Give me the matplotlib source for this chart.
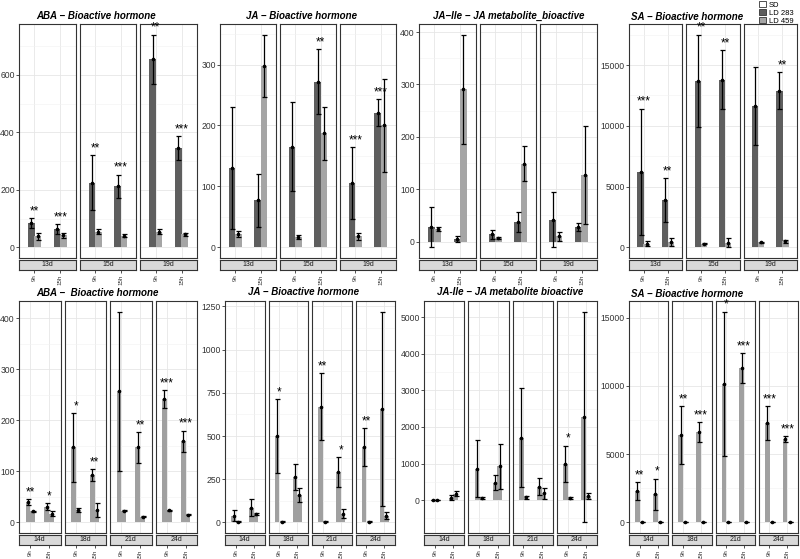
import matplotlib
matplotlib.use('Agg')
import matplotlib.pyplot as plt
from matplotlib.patches import Patch
from matplotlib.ticker import MultipleLocator

plt.rcParams['font.family'] = ['Liberation Sans', 'DejaVu Sans']

W, H = 800, 559

top_days = ['13d', '15d', '19d']
bottom_days = ['14d', '18d', '21d', '24d']
times = ['9h', '15h']
legend_labels = ['SD', 'LD 283', 'LD 459']

# top row, values per day, per time (9h, 15h): LD 283 (dark) and LD 459 (light)
aba_top_ld283 = [[85, 65], [225, 212], [655, 345]]
aba_top_ld283_sd = [[17, 17], [95, 41], [85, 42]]
aba_top_ld459 = [[38, 42], [55, 40], [55, 45]]
aba_top_ld459_sd = [[11, 8], [10, 5], [10, 4]]
aba_top_stars = [['**', '***'], ['**', '***'], ['**', '***']]

ja_top_ld283 = [[130, 77], [165, 272], [106, 221]]
ja_top_ld283_sd = [[100, 43], [73, 53], [59, 22]]
ja_top_ld459 = [[22, 298], [17, 187], [18, 200]]
ja_top_ld459_sd = [[5, 51], [4, 43], [6, 77]]
ja_top_stars = [['', ''], ['', '**'], ['***', '***']]

jaile_top_ld283 = [[28, 5], [14, 38], [42, 28]]
jaile_top_ld283_sd = [[38, 5], [9, 19], [53, 7]]
jaile_top_ld459 = [[24, 291], [7, 149], [10, 127]]
jaile_top_ld459_sd = [[4, 104], [2, 34], [9, 94]]
jaile_top_stars = [['', ''], ['', ''], ['', '']]

sa_top_ld283 = [[6200, 3900], [13700, 13800], [11600, 12900]]
sa_top_ld283_sd = [[5200, 1800], [3800, 2400], [3200, 1500]]
sa_top_ld459 = [[300, 420], [300, 400], [420, 500]]
sa_top_ld459_sd = [[200, 330], [60, 380], [60, 100]]
sa_top_stars = [['***', '**'], ['**', '**'], ['', '**']]

# bottom row, two series per time
aba_bot_a = [[40, 31], [147, 93], [257, 147], [242, 159]]
aba_bot_a_sd = [[5, 7], [67, 11], [156, 30], [17, 21]]
aba_bot_b = [[22, 17], [24, 24], [23, 11], [24, 15]]
aba_bot_b_sd = [[1, 5], [4, 14], [1, 1], [1, 1]]
aba_bot_stars = [['**', '*'], ['*', '**'], ['', '**'], ['***', '***']]

ja_bot_a = [[40, 85], [500, 263], [670, 290], [437, 657]]
ja_bot_a_sd = [[30, 50], [213, 74], [193, 87], [108, 563]]
ja_bot_b = [[5, 48], [5, 160], [5, 50], [5, 40]]
ja_bot_b_sd = [[2, 5], [2, 40], [2, 25], [2, 20]]
ja_bot_stars = [['', ''], ['*', ''], ['**', '*'], ['**', '']]

jaile_bot_a = [[10, 60], [860, 480], [1700, 370], [990, 2270]]
jaile_bot_a_sd = [[5, 70], [770, 200], [1350, 230], [500, 2880]]
jaile_bot_b = [[10, 175], [60, 920], [80, 190], [60, 110]]
jaile_bot_b_sd = [[5, 65], [20, 620], [40, 150], [30, 85]]
jaile_bot_stars = [['', ''], ['', ''], ['', ''], ['*', '']]

sa_bot_a = [[2300, 2050], [6400, 6600], [10150, 11300], [7250, 6100]]
sa_bot_a_sd = [[650, 1150], [2100, 730], [5300, 1080], [1250, 200]]
sa_bot_b = [[20, 20], [20, 20], [20, 20], [20, 20]]
sa_bot_b_sd = [[30, 30], [30, 30], [30, 30], [30, 30]]
sa_bot_stars = [['**', '*'], ['**', '***'], ['*', '***'], ['***', '***']]

dark = '#5e5e5e'
light = '#a5a5a5'
bot_col = '#a0a0a0'
edge = '#333333'

fig = plt.figure(figsize=(W / 100, H / 100), dpi=100)


def draw_group(title, tpos, days, x0, x1, ytop, ybot, series, stars, yticks):
    n = len(days)
    gap = 4
    w = (x1 - x0 - gap * (n - 1)) / n
    lows, highs = [0], [0]
    for m, s, c in series:
        for i in range(n):
            for j in range(2):
                lows.append(m[i][j] - s[i][j])
                highs.append(m[i][j] + s[i][j])
    lo, hi = min(lows), max(highs)
    pad = 0.05 * (hi - lo)
    step = yticks[1] - yticks[0]
    offs = [-0.125, 0.125]
    for i, day in enumerate(days):
        left = x0 + i * (w + gap)
        ax = fig.add_axes([left / W, 1 - ybot / H, w / W, (ybot - ytop) / H])
        ax.set_xlim(0.4, 2.6)
        ax.set_ylim(lo - pad, hi + pad)
        for k, (m, s, c) in enumerate(series):
            xs = [1 + offs[k], 2 + offs[k]]
            ax.bar(xs, m[i], width=0.26, color=c, zorder=2)
            ax.errorbar(xs, m[i], yerr=s[i], fmt='o', ms=1.6, color='black',
                        ecolor='black', elinewidth=0.9, capsize=1.8, capthick=0.9, zorder=3)
        for j in range(2):
            st = stars[i][j]
            if st:
                top = series[0][0][i][j] + series[0][1][i][j]
                ax.text(1 + j, top + 0.004 * (hi - lo), st, ha='center', va='bottom',
                        fontsize=8.5, color='black', zorder=4)
        ax.set_xticks([1, 2])
        ax.set_yticks(yticks)
        ax.yaxis.set_minor_locator(MultipleLocator(step / 2))
        ax.grid(which='major', color='#e6e6e6', lw=0.6, zorder=0)
        ax.grid(which='minor', axis='y', color='#f2f2f2', lw=0.4, zorder=0)
        ax.set_axisbelow(True)
        ax.tick_params(axis='x', length=0, labelbottom=False)
        ax.tick_params(axis='y', which='minor', length=0)
        if i == 0:
            ax.tick_params(axis='y', length=2, width=0.6, color=edge, labelsize=6.2,
                           labelcolor='#333333', pad=1)
        else:
            ax.tick_params(axis='y', length=0, labelleft=False)
        for sp in ax.spines.values():
            sp.set_color(edge)
            sp.set_linewidth(0.8)
        strip = fig.add_axes([left / W, 1 - (ybot + 11.5) / H, w / W, 10 / H])
        strip.set_facecolor('#d9d9d9')
        strip.set_xlim(0.4, 2.6)
        strip.set_ylim(0, 1)
        strip.text(1.5, 0.5, day, ha='center', va='center', fontsize=5, color='#1a1a1a')
        strip.set_yticks([])
        strip.set_xticks([1, 2])
        strip.set_xticklabels(times, rotation=90, fontsize=4.5, color='#333333')
        strip.tick_params(axis='x', length=2, width=0.6, color=edge, pad=1.5)
        for sp in strip.spines.values():
            sp.set_color(edge)
            sp.set_linewidth(0.8)
    fig.text(tpos[0] / W, 1 - tpos[1] / H, title, ha='center', va='center',
             fontsize=7, fontweight='bold', fontstyle='italic')


# top row
draw_group('ABA \u2212 Bioactive hormone', (96.5, 16), top_days, 19, 197, 24, 258,
           [(aba_top_ld283, aba_top_ld283_sd, dark), (aba_top_ld459, aba_top_ld459_sd, light)],
           aba_top_stars, [0, 200, 400, 600])
draw_group('JA \u2212 Bioactive hormone', (301, 16), top_days, 220, 396, 24, 258,
           [(ja_top_ld283, ja_top_ld283_sd, dark), (ja_top_ld459, ja_top_ld459_sd, light)],
           ja_top_stars, [0, 100, 200, 300])
draw_group('JA\u2212Ile \u2212 JA metabolite_bioactive', (509, 16), top_days, 419, 597, 24, 258,
           [(jaile_top_ld283, jaile_top_ld283_sd, dark), (jaile_top_ld459, jaile_top_ld459_sd, light)],
           jaile_top_stars, [0, 100, 200, 300, 400])
draw_group('SA \u2212 Bioactive hormone', (687.5, 17.3), top_days, 629, 797, 24, 258,
           [(sa_top_ld283, sa_top_ld283_sd, dark), (sa_top_ld459, sa_top_ld459_sd, light)],
           sa_top_stars, [0, 5000, 10000, 15000])

# bottom row
draw_group('ABA \u2212  Bioactive hormone', (97.5, 293), bottom_days, 19, 197, 301, 533,
           [(aba_bot_a, aba_bot_a_sd, bot_col), (aba_bot_b, aba_bot_b_sd, bot_col)],
           aba_bot_stars, [0, 100, 200, 300, 400])
draw_group('JA \u2212 Bioactive hormone', (303, 292), bottom_days, 225, 395, 301, 533,
           [(ja_bot_a, ja_bot_a_sd, bot_col), (ja_bot_b, ja_bot_b_sd, bot_col)],
           ja_bot_stars, [0, 250, 500, 750, 1000, 1250])
draw_group('JA-Ile \u2212 JA metabolite bioactive', (510.5, 292), bottom_days, 424, 597, 301, 533,
           [(jaile_bot_a, jaile_bot_a_sd, bot_col), (jaile_bot_b, jaile_bot_b_sd, bot_col)],
           jaile_bot_stars, [0, 1000, 2000, 3000, 4000, 5000])
draw_group('SA \u2212 Bioactive hormone', (687, 294), bottom_days, 629, 798, 301, 533,
           [(sa_bot_a, sa_bot_a_sd, bot_col), (sa_bot_b, sa_bot_b_sd, bot_col)],
           sa_bot_stars, [0, 5000, 10000, 15000])

handles = [Patch(facecolor=c, edgecolor=edge, lw=0.6) for c in ['white', dark, light]]
fig.legend(handles, legend_labels, loc='upper left', bbox_to_anchor=(758 / W, 1.0),
           frameon=False, fontsize=5.5, handlelength=0.9, handleheight=0.9,
           labelspacing=0.05, borderpad=0.1, handletextpad=0.4, borderaxespad=0)

fig.savefig('out.png', dpi=100)
